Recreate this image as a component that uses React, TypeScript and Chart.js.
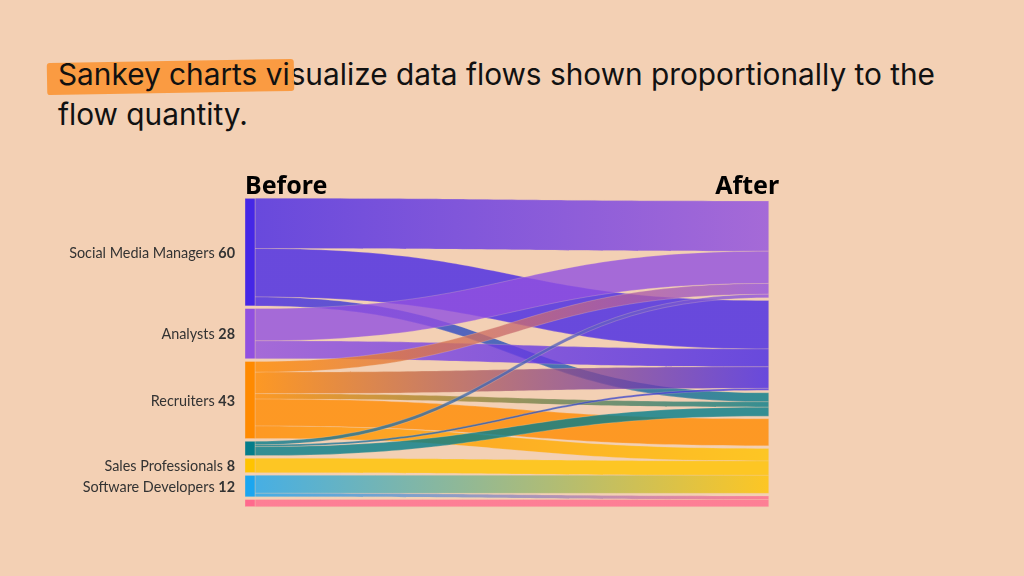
import React, { useEffect, useRef } from 'react';
import { Chart, registerables } from 'chart.js';

Chart.register(...registerables);

// ---------- data ----------
const headlineHighlight = 'Sankey charts vi';
const headlineRest = 'sualize data flows shown proportionally to the flow quantity.';
const columnTitles = ['Before', 'After'];

const sourceLabels = ['Social Media Managers', 'Analysts', 'Recruiters', '', 'Sales Professionals', 'Software Developers', ''];
const sourceValues = [60, 28, 43, 8, 8, 12, 4];
const sourceColors = ['#4527E6', '#9150E0', '#FF8A00', '#047D8A', '#FFC300', '#1BA6F0', '#FF6A8D'];

const targetColors = ['#9150E0', '#4527E6', '#047D8A', '#FF8A00', '#FFC300', '#FF6A8D'];

const flowSource = [0, 0, 0, 1, 1, 2, 2, 2, 2, 2, 3, 3, 3, 4, 5, 5, 6];
const flowTarget = [0, 1, 2, 0, 1, 0, 1, 2, 3, 4, 0, 1, 2, 4, 4, 5, 5];
const flowValues = [28, 27, 5, 18, 10, 6, 12, 3, 15, 7, 2, 1, 5, 8, 10, 2, 4];

// ---------- layout constants ----------
const NODE_GAP = 1.5; // in value units
const NODE_WIDTH = 10; // px
const BG = '#F3D0B4';

function rgba(hex: string, a: number) {
  const n = parseInt(hex.slice(1), 16);
  return `rgba(${(n >> 16) & 255},${(n >> 8) & 255},${n & 255},${a})`;
}

const totalSource = sourceValues.reduce((a, b) => a + b, 0) + NODE_GAP * (sourceValues.length - 1);

const sankeyPlugin = {
  id: 'sankeyDraw',
  beforeDatasetsDraw(chart: any) {
    const { ctx, scales } = chart;
    const x = scales.x;
    const y = scales.y;

    let acc = 0;
    const srcStart = sourceValues.map((v) => {
      const s = acc;
      acc += v + NODE_GAP;
      return s;
    });
    const targetValues = targetColors.map((_, t) =>
      flowValues.reduce((s, v, i) => s + (flowTarget[i] === t ? v : 0), 0)
    );
    const tgtTotal = targetValues.reduce((a, b) => a + b, 0) + NODE_GAP * (targetValues.length - 1);
    let acc2 = totalSource - tgtTotal;
    const tgtStart = targetValues.map((v) => {
      const s = acc2;
      acc2 += v + NODE_GAP;
      return s;
    });

    const barLeft = x.getPixelForValue(0);
    const x0 = barLeft + NODE_WIDTH;
    const x1 = x.getPixelForValue(1);
    const xm = (x0 + x1) / 2;

    const srcOff = [...srcStart];
    const tgtOff = [...tgtStart];

    ctx.save();
    flowValues.forEach((v, i) => {
      const s = flowSource[i];
      const t = flowTarget[i];
      const a0 = y.getPixelForValue(srcOff[s]);
      const a1 = y.getPixelForValue(srcOff[s] + v);
      const b0 = y.getPixelForValue(tgtOff[t]);
      const b1 = y.getPixelForValue(tgtOff[t] + v);
      srcOff[s] += v;
      tgtOff[t] += v;
      ctx.beginPath();
      ctx.moveTo(x0, a0);
      ctx.bezierCurveTo(xm, a0, xm, b0, x1, b0);
      ctx.lineTo(x1, b1);
      ctx.bezierCurveTo(xm, b1, xm, a1, x0, a1);
      ctx.closePath();
      const g = ctx.createLinearGradient(x0, 0, x1, 0);
      g.addColorStop(0, rgba(sourceColors[s], 0.8));
      g.addColorStop(1, rgba(targetColors[t], 0.8));
      ctx.fillStyle = g;
      ctx.fill();
      ctx.strokeStyle = 'rgba(243,208,180,0.5)';
      ctx.lineWidth = 0.5;
      ctx.stroke();
    });

    // source node bars
    sourceValues.forEach((v, i) => {
      const top = y.getPixelForValue(srcStart[i]);
      const bot = y.getPixelForValue(srcStart[i] + v);
      ctx.fillStyle = sourceColors[i];
      ctx.fillRect(barLeft, top, NODE_WIDTH, bot - top);
      ctx.strokeStyle = 'rgba(243,208,180,0.6)';
      ctx.lineWidth = 0.6;
      ctx.strokeRect(barLeft, top, NODE_WIDTH, bot - top);
    });

    // labels
    ctx.textBaseline = 'middle';
    ctx.textAlign = 'right';
    const lx = barLeft - 10;
    sourceValues.forEach((v, i) => {
      if (!sourceLabels[i]) return;
      const cy = (y.getPixelForValue(srcStart[i]) + y.getPixelForValue(srcStart[i] + v)) / 2 + 1;
      ctx.fillStyle = '#333';
      ctx.font = 'bold 14.4px Lato';
      const num = String(v);
      const w = ctx.measureText(num).width;
      ctx.fillText(num, lx, cy);
      ctx.font = '14.4px Lato';
      ctx.fillText(sourceLabels[i] + ' ', lx - w, cy);
    });

    // column titles
    ctx.fillStyle = '#000';
    ctx.font = 'bold 25px "Noto Sans"';
    ctx.textBaseline = 'alphabetic';
    const ty = y.getPixelForValue(0) - 4;
    ctx.textAlign = 'left';
    ctx.fillText(columnTitles[0], barLeft, ty);
    ctx.textAlign = 'right';
    ctx.fillText(columnTitles[1], x1 + 10.5, ty);
    ctx.restore();
  },
};

export default function App() {
  const ref = useRef<HTMLCanvasElement>(null);

  useEffect(() => {
    document.body.style.margin = '0';
    if (!ref.current) return;
    const chart = new Chart(ref.current, {
      type: 'scatter',
      data: { datasets: [] },
      options: {
        animation: false,
        responsive: false,
        maintainAspectRatio: false,
        layout: { padding: { left: 245, right: 255.3, top: 198.3, bottom: 69.3 } },
        plugins: { legend: { display: false }, tooltip: { enabled: false } },
        scales: {
          x: { type: 'linear', min: 0, max: 1, display: false },
          y: { type: 'linear', min: 0, max: totalSource, reverse: true, display: false },
        },
      },
      plugins: [sankeyPlugin],
    });
    return () => chart.destroy();
  }, []);

  return (
    <div style={{ position: 'absolute', left: 0, top: 0, width: 1024, height: 576, background: BG, overflow: 'hidden' }}>
      <div
        style={{
          position: 'absolute',
          left: 58,
          top: 54,
          width: 905,
          fontFamily: 'Inter, sans-serif',
          fontSize: 29.8,
          lineHeight: '40px',
          color: '#111',
        }}
      >
        <span style={{ position: 'relative' }}>
          <span
            style={{
              position: 'absolute',
              left: -11,
              right: -4,
              top: 5,
              bottom: -1,
              background: 'rgba(250,152,60,0.95)',
              borderRadius: 3,
              transform: 'rotate(-1deg)',
            }}
          />
          <span style={{ position: 'relative' }}>{headlineHighlight}</span>
        </span>
        {headlineRest}
      </div>
      <canvas ref={ref} width={1024} height={576} style={{ position: 'absolute', left: 0, top: 0 }} />
    </div>
  );
}
